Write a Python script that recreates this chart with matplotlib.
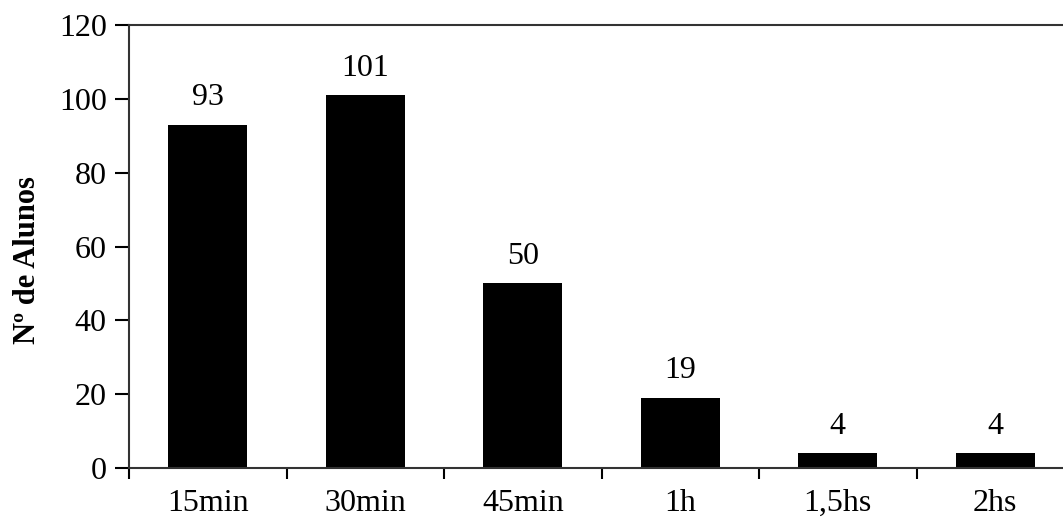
import matplotlib.pyplot as plt
import numpy as np

# tempo de estudo diário x número de alunos
tempos = ["15min", "30min", "45min", "1h", "1,5hs", "2hs"]
alunos = [93, 101, 50, 19, 4, 4]

plt.rcParams['font.family'] = ['Liberation Serif', 'DejaVu Serif']

fig = plt.figure(figsize=(10.63, 5.18), dpi=100)
ax = fig.add_axes([0.1214, 0.0965, 0.889, 0.855])

x = np.arange(len(tempos))
barras = ax.bar(x, alunos, width=0.5, color='black')
ax.bar_label(barras, padding=9, fontsize=23)

ax.set_xlim(-0.5, len(tempos) - 0.5)
ax.set_ylim(0, 120)
ax.set_yticks(range(0, 121, 20))
ax.set_xticks(x)
ax.set_xticklabels(tempos)
ax.set_xticks(np.arange(-0.5, len(tempos)), minor=True)

ax.tick_params(axis='x', which='major', length=0, pad=15, labelsize=23)
ax.tick_params(axis='x', which='minor', length=8, width=1.5, direction='out')
ax.tick_params(axis='y', length=10, width=1.5, direction='out', pad=6, labelsize=23)

for lado in ['left', 'bottom', 'top', 'right']:
    ax.spines[lado].set_linewidth(1.5)
    ax.spines[lado].set_color('#333333')

ax.set_ylabel("Nº de Alunos", fontsize=22, fontweight='bold')
ax.yaxis.set_label_coords(-0.092, 0.47)

fig.savefig("out.png", dpi=100)
